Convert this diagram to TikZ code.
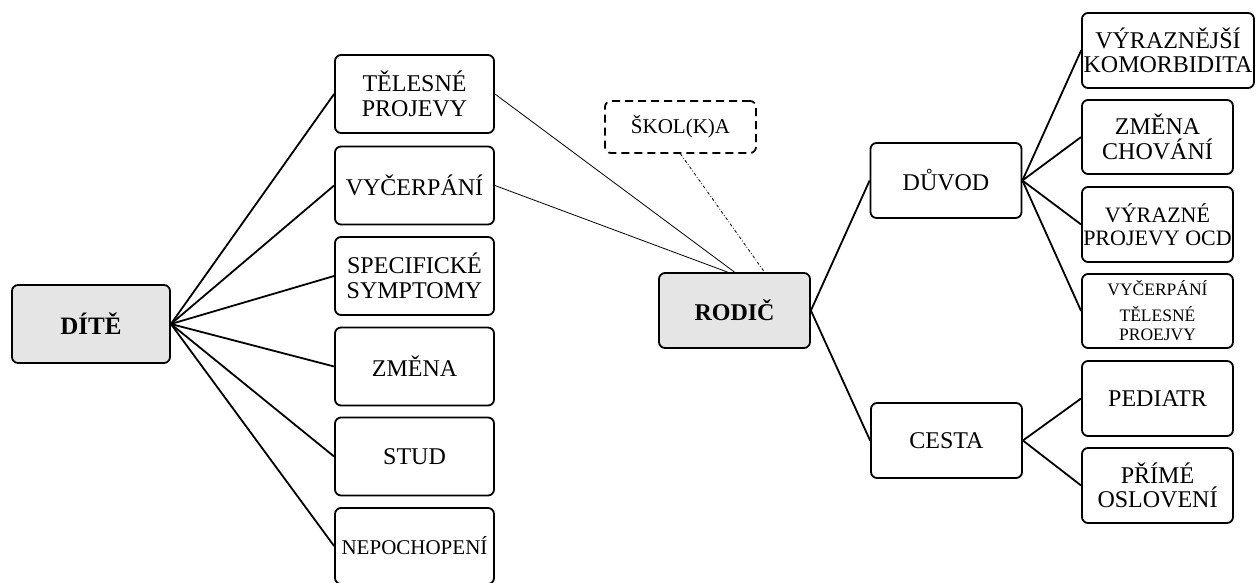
\documentclass[tikz,border=0pt]{standalone}
\usepackage{fontspec}
\setmainfont{Liberation Serif}
\begin{document}
\begin{tikzpicture}[x=1pt,y=-1pt,
  box/.style={draw, line width=1.8pt, rounded corners=6pt, align=center, inner sep=0pt,
    minimum width=151pt, minimum height=75pt, font=\fontsize{24}{24.5}\selectfont},
  lbox/.style={box, minimum width=159pt, minimum height=78pt},
  main/.style={fill=gray!20, font=\fontsize{25}{26}\selectfont\bfseries},
  conn/.style={line width=1.8pt},
  thin/.style={line width=0.8pt},
  dashdot/.style={line width=0.8pt, dash pattern=on 3pt off 2pt on 0.8pt off 2pt}
]
\useasboundingbox (0,0) rectangle (1256,583);
% left
\node[lbox, main, minimum width=158pt] (dite) at (91,324) {DÍTĚ};
\node[lbox] (tel) at (414.5,94) {TĚLESNÉ\\PROJEVY};
\node[lbox] (vyc) at (414.5,185.5) {VYČERPÁNÍ};
\node[lbox] (spec) at (414.5,276) {SPECIFICKÉ\\SYMPTOMY};
\node[lbox] (zmena) at (414.5,366.5) {ZMĚNA};
\node[lbox] (stud) at (414.5,456.5) {STUD};
\node[lbox, minimum height=76pt, font=\fontsize{21}{22}\selectfont] (nepo) at (414.5,546) {NEPOCHOPENÍ};
% middle
\node[box, main, font=\fontsize{24}{25}\selectfont\bfseries] (rodic) at (734.5,310.5) {RODIČ};
\node[box, dashed, dash pattern=on 8pt off 5pt, minimum height=52pt, font=\fontsize{21}{22}\selectfont] (skola) at (680.5,127) {ŠKOL(K)A};
\node[box] (duvod) at (946,180.5) {DŮVOD};
\node[box] (cesta) at (946.5,440.5) {CESTA};
% right
\node[box, minimum width=172pt] (vyr) at (1168,50.5) {VÝRAZNĚJŠÍ\\KOMORBIDITA};
\node[box, minimum height=74pt] (zch) at (1157.5,137) {ZMĚNA\\CHOVÁNÍ};
\node[box, font=\fontsize{22}{23}\selectfont] (vyrz) at (1157.5,224.5) {VÝRAZNÉ\\PROJEVY OCD};
\node[box, minimum height=74pt, font=\fontsize{17.5}{19}\selectfont] (vycr) at (1157.5,311) {VYČERPÁNÍ\\[7pt]TĚLESNÉ\\PROEJVY};
\node[box] (ped) at (1157.5,398.5) {PEDIATR};
\node[box] (prime) at (1157.5,485.5) {PŘÍMÉ\\OSLOVENÍ};
% connectors
\foreach \t in {tel,vyc,spec,zmena,stud,nepo}
  \draw[conn] (dite.east) -- (\t.west);
\draw[thin] (tel.east) -- (rodic.north);
\draw[thin] (vyc.east) -- ([xshift=-7pt]rodic.north);
\draw[dashdot] (skola.south) -- ([xshift=30pt]rodic.north);
\draw[conn] (rodic.east) -- (duvod.west);
\draw[conn] (rodic.east) -- (cesta.west);
\foreach \t in {vyr,zch,vyrz,vycr}
  \draw[conn] (duvod.east) -- (\t.west);
\foreach \t in {ped,prime}
  \draw[conn] (cesta.east) -- (\t.west);
\end{tikzpicture}
\end{document}
